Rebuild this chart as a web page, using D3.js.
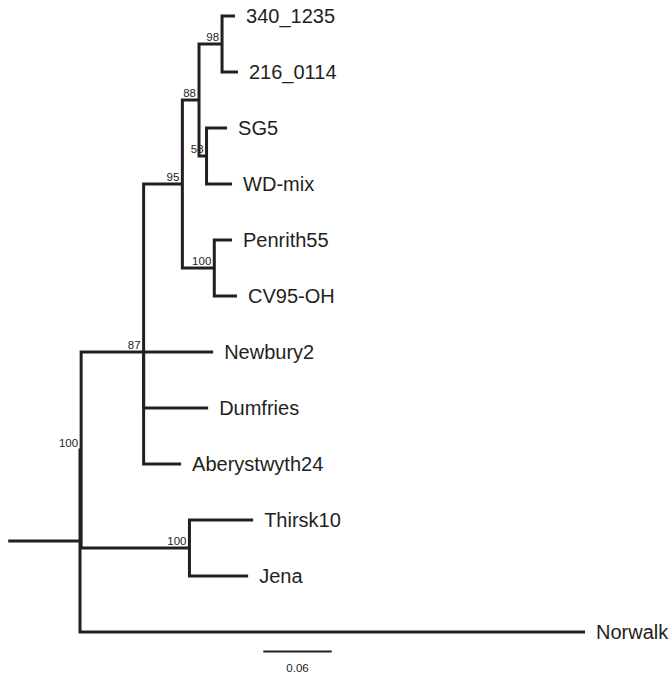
<!DOCTYPE html>
<html>
<head>
<meta charset="utf-8">
<script src="https://cdn.jsdelivr.net/npm/d3@7"></script>
<style>
  body { margin: 0; background: #fff; }
  svg { display: block; }
  text { font-family: "Liberation Sans", Arial, Helvetica, sans-serif; fill: #231f20; }
</style>
</head>
<body>
<script>
let width = 672;
let height = 675;

// tree as parent table, children listed in drawing order
let nodeIds = ["root", "n100a", "n87", "n95", "n88", "n98", "340_1235", "216_0114",
    "n58", "SG5", "WD-mix", "n100b", "Penrith55", "CV95-OH",
    "Newbury2", "Dumfries", "Aberystwyth24", "n100c", "Thirsk10", "Jena", "Norwalk"];
let parentIds = [null, "root", "n100a", "n87", "n95", "n88", "n98", "n98",
    "n88", "n58", "n58", "n95", "n100b", "n100b",
    "n87", "n87", "n87", "n100a", "n100c", "n100c", "root"];
let branchLengths = [0, 0.001, 0.0548, 0.034, 0.0146, 0.0202, 0.0114, 0.014,
    0.0066, 0.018, 0.0224, 0.028, 0.0155, 0.0199,
    0.061, 0.0566, 0.0329, 0.095, 0.0559, 0.0515, 0.443];
let supportValues = [null, 100, 87, 95, 88, 98, null, null,
    58, null, null, 100, null, null,
    null, null, null, 100, null, null, null];

let rootStem = 0.063;
let scaleBarStart = 0.1608;
let scaleBarLength = 0.06;

let table = nodeIds.map((id, i) => ({
    id: id, parent: parentIds[i], length: branchLengths[i], support: supportValues[i]
}));

let root = d3.stratify()
    .id(d => d.id)
    .parentId(d => d.parent)(table);

// cumulative distance from root
root.eachBefore(n => {
    n.dist = n.parent ? n.parent.dist + n.data.length : 0;
});

let x = d3.scaleLinear().domain([0, 0.5]).range([80, 80 + 570]);
let y = d3.scalePoint()
    .domain(root.leaves().map(d => d.id))
    .range([16, 632]);

root.eachAfter(n => {
    n.py = n.children ? d3.mean(n.children, c => c.py) : y(n.id);
});

let svg = d3.select("body").append("svg")
    .attr("width", width)
    .attr("height", height);

let g = svg.append("g");

// root stem
g.append("line")
    .attr("x1", x(-rootStem))
    .attr("x2", x(0))
    .attr("y1", root.py)
    .attr("y2", root.py)
    .attr("stroke", "#231f20")
    .attr("stroke-width", 3);

// elbow branches
g.selectAll("path.branch")
    .data(root.descendants().slice(1))
    .enter()
    .append("path")
    .attr("class", "branch")
    .attr("d", d => {
        let p = d3.path();
        p.moveTo(x(d.parent.dist), d.parent.py);
        p.lineTo(x(d.parent.dist), d.py);
        p.lineTo(x(d.dist), d.py);
        return p;
    })
    .attr("fill", "none")
    .attr("stroke", "#231f20")
    .attr("stroke-width", 3);

// tip labels
g.selectAll("text.tip")
    .data(root.leaves())
    .enter()
    .append("text")
    .attr("class", "tip")
    .attr("x", d => x(d.dist) + 11)
    .attr("y", d => d.py)
    .attr("dy", "0.35em")
    .style("font-size", "20px")
    .text(d => d.id);

// bootstrap values
g.selectAll("text.support")
    .data(root.descendants().filter(d => d.data.support != null))
    .enter()
    .append("text")
    .attr("class", "support")
    .attr("x", d => x(d.dist) - 3)
    .attr("y", d => d.py - 3)
    .attr("text-anchor", "end")
    .style("font-size", "11.5px")
    .text(d => d.data.support);

// scale bar
g.append("line")
    .attr("x1", x(scaleBarStart))
    .attr("x2", x(scaleBarStart + scaleBarLength))
    .attr("y1", 651.5)
    .attr("y2", 651.5)
    .attr("stroke", "#231f20")
    .attr("stroke-width", 2);

g.append("text")
    .attr("x", x(scaleBarStart + scaleBarLength / 2))
    .attr("y", 672)
    .attr("text-anchor", "middle")
    .style("font-size", "11.5px")
    .text(scaleBarLength);
</script>
</body>
</html>
